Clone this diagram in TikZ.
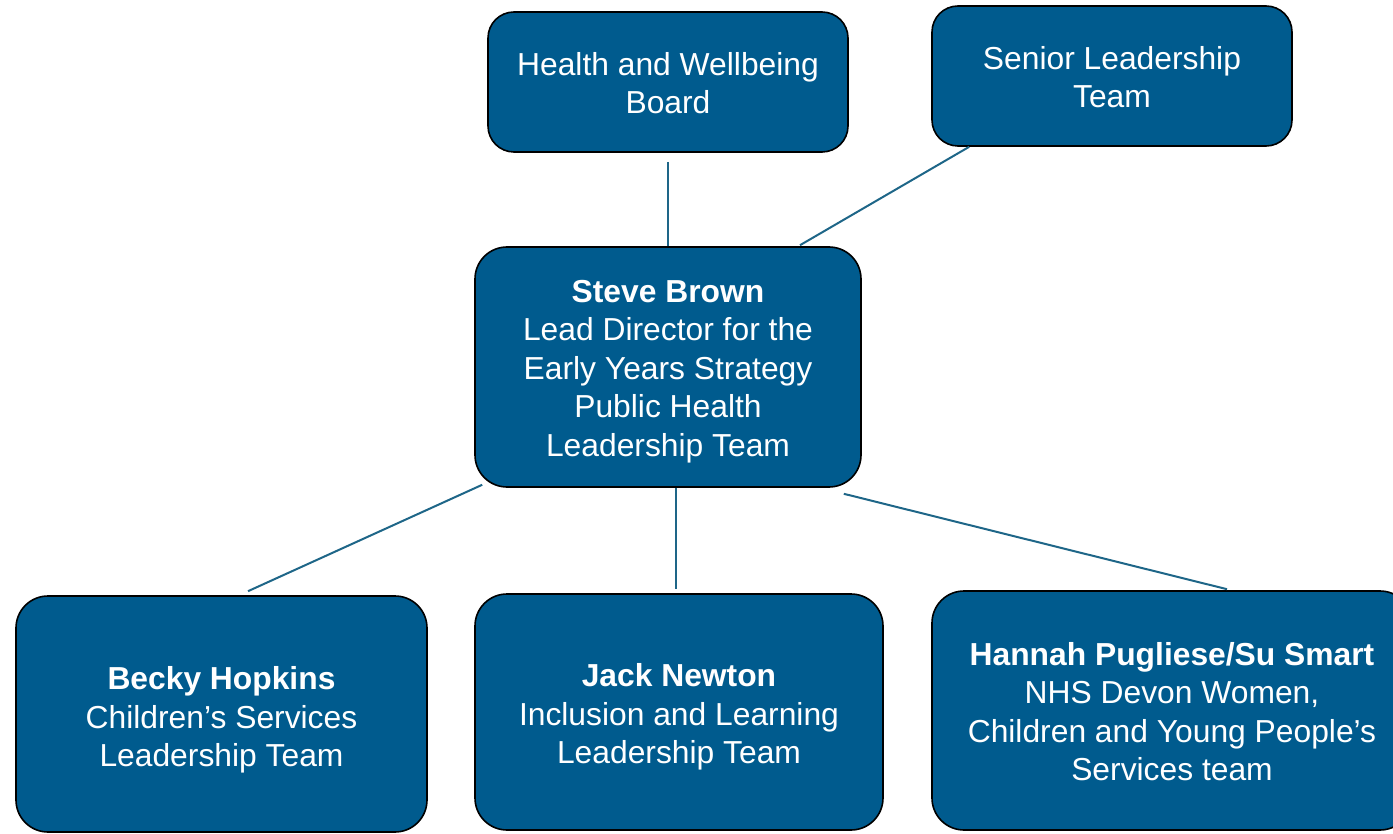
\documentclass[tikz,border=0pt]{standalone}
\usepackage{fontspec}
\setmainfont{Liberation Sans}
\usetikzlibrary{calc}
\definecolor{boxblue}{RGB}{0,91,142}
\definecolor{linkblue}{RGB}{30,102,136}
\newcommand{\dropstrut}[1]{\rule{0pt}{#1}}
\tikzset{
  orgbox/.style={draw=black, line width=1.6pt, fill=boxblue, rounded corners=#1,
    text=white, align=center, inner sep=0pt,
    font=\fontsize{31.8pt}{38.5pt}\selectfont},
  orgbox/.default=30pt,
  link/.style={draw=linkblue, line width=2pt}
}
\begin{document}
\begin{tikzpicture}[x=1pt,y=1pt]
\useasboundingbox (0,0) rectangle (1393,-834);
\clip (0,0) rectangle (1393,-834);
\node[orgbox=26pt, minimum width=360pt, minimum height=140pt] (hwb) at (668,-82) {\dropstrut{25pt}Health and Wellbeing\\Board};
\node[orgbox=26pt, minimum width=360pt, minimum height=140pt] (slt) at (1112,-76) {\dropstrut{25pt}Senior Leadership\\Team};
\node[orgbox=32pt, minimum width=386pt, minimum height=240pt] (steve) at (668,-367) {\dropstrut{31pt}\textbf{Steve Brown}\\Lead Director for the\\Early Years Strategy\\Public Health\\Leadership Team};
\node[orgbox=32pt, minimum width=411pt, minimum height=236pt] (becky) at (221.5,-714) {\dropstrut{35pt}\textbf{Becky Hopkins}\\Children’s Services\\Leadership Team};
\node[orgbox=32pt, minimum width=408pt, minimum height=236pt] (jack) at (679,-712) {\dropstrut{33pt}\textbf{Jack Newton}\\Inclusion and Learning\\Leadership Team};
\node[orgbox=32pt, minimum width=480pt, minimum height=239pt] (hannah) at (1172,-710.5) {\dropstrut{25pt}\textbf{Hannah Pugliese/Su Smart}\\NHS Devon Women,\\Children and Young People’s\\Services team};
\draw[link] ($(hwb.south)+(0,-9)$) -- (steve.north);
\draw[link] ($(slt.south west)+(38,0)$) -- ($(steve.north)+(132,1)$);
\draw[link] ($(steve.south west)+(8,3)$) -- ($(becky.north)+(26.5,4)$);
\draw[link] ($(steve.south)+(8,0)$) -- ($(jack.north)+(-3,4)$);
\draw[link] ($(steve.south east)+(-18,-6)$) -- ($(hannah.north)+(55,1)$);
\end{tikzpicture}
\end{document}
